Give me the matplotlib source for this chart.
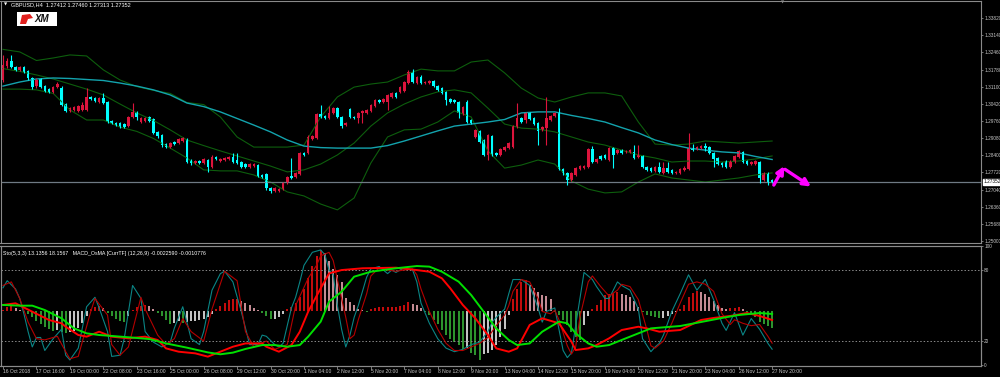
import numpy as np
import matplotlib
matplotlib.use('Agg')
import matplotlib.pyplot as plt
from matplotlib.patches import Rectangle, Polygon

plt.rcParams['font.family'] = ['Liberation Sans', 'DejaVu Sans']

# GBPUSD H4 candles (16 Oct 2018 08:00 -> 27 Nov 2018 20:00)
opens = [1.3137, 1.3192, 1.3212, 1.3188, 1.3177, 1.3188, 1.3173, 1.3145, 1.3113, 1.3141,
         1.3113, 1.3101, 1.3090, 1.3109, 1.3105, 1.3042, 1.3015, 1.3019, 1.3015, 1.3019,
         1.3019, 1.3070, 1.3066, 1.3050, 1.3066, 1.3050, 1.2975, 1.2967, 1.2967, 1.2963,
         1.2955, 1.2991, 1.3011, 1.2971, 1.2975, 1.2991, 1.2983, 1.2932, 1.2920, 1.2884,
         1.2872, 1.2892, 1.2888, 1.2896, 1.2904, 1.2821, 1.2809, 1.2817, 1.2809, 1.2821,
         1.2793, 1.2833, 1.2817, 1.2821, 1.2825, 1.2833, 1.2821, 1.2813, 1.2805, 1.2793,
         1.2797, 1.2801, 1.2762, 1.2766, 1.2710, 1.2699, 1.2699, 1.2706, 1.2730, 1.2758,
         1.2754, 1.2766, 1.2849, 1.2849, 1.2904, 1.2908, 1.3003, 1.2995, 1.2987, 1.3007,
         1.3026, 1.2991, 1.2959, 1.3022, 1.2991, 1.2987, 1.3007, 1.3007, 1.3015, 1.3034,
         1.3058, 1.3050, 1.3050, 1.3070, 1.3086, 1.3090, 1.3094, 1.3125, 1.3169, 1.3125,
         1.3149, 1.3125, 1.3125, 1.3133, 1.3113, 1.3105, 1.3090, 1.3062, 1.3058, 1.3050,
         1.3003, 1.3050, 1.2979, 1.2912, 1.2936, 1.2900, 1.2841, 1.2916, 1.2849, 1.2841,
         1.2860, 1.2868, 1.2872, 1.2951, 1.2987, 1.2979, 1.3007, 1.2987, 1.2967, 1.2940,
         1.2947, 1.2979, 1.2995, 1.3007, 1.2785, 1.2770, 1.2742, 1.2762, 1.2785, 1.2789,
         1.2793, 1.2864, 1.2813, 1.2837, 1.2841, 1.2821, 1.2868, 1.2849, 1.2860, 1.2853,
         1.2853, 1.2853, 1.2833, 1.2837, 1.2793, 1.2789, 1.2778, 1.2793, 1.2770, 1.2789,
         1.2782, 1.2770, 1.2770, 1.2782, 1.2785, 1.2868, 1.2864, 1.2868, 1.2876, 1.2872,
         1.2849, 1.2829, 1.2809, 1.2817, 1.2793, 1.2813, 1.2833, 1.2853, 1.2817, 1.2805,
         1.2805, 1.2813, 1.2742, 1.2770, 1.27412]
highs = [1.3236, 1.3224, 1.3236, 1.3192, 1.3192, 1.3192, 1.3177, 1.3149, 1.3145, 1.3145,
         1.3117, 1.3105, 1.3113, 1.3129, 1.3113, 1.3046, 1.3030, 1.3034, 1.3038, 1.3050,
         1.3105, 1.3074, 1.3070, 1.3070, 1.3086, 1.3054, 1.2979, 1.2971, 1.2971, 1.2967,
         1.2995, 1.3046, 1.3015, 1.2991, 1.2991, 1.2995, 1.2987, 1.2936, 1.2924, 1.2888,
         1.2892, 1.2896, 1.2908, 1.2912, 1.2908, 1.2825, 1.2821, 1.2821, 1.2829, 1.2825,
         1.2841, 1.2837, 1.2829, 1.2833, 1.2837, 1.2849, 1.2849, 1.2817, 1.2809, 1.2809,
         1.2809, 1.2805, 1.2766, 1.2770, 1.2714, 1.2714, 1.2710, 1.2734, 1.2758, 1.2829,
         1.2774, 1.2853, 1.2853, 1.2920, 1.2920, 1.3007, 1.3038, 1.2999, 1.3034, 1.3030,
         1.3030, 1.2995, 1.2971, 1.3026, 1.2995, 1.3011, 1.3019, 1.3022, 1.3042, 1.3062,
         1.3062, 1.3066, 1.3082, 1.3090, 1.3090, 1.3113, 1.3133, 1.3177, 1.3180, 1.3153,
         1.3157, 1.3133, 1.3137, 1.3137, 1.3117, 1.3109, 1.3094, 1.3066, 1.3062, 1.3054,
         1.3034, 1.3058, 1.2983, 1.2943, 1.2940, 1.2904, 1.2924, 1.2920, 1.2853, 1.2868,
         1.2876, 1.2892, 1.2959, 1.3046, 1.2991, 1.3011, 1.3011, 1.2991, 1.2971, 1.2955,
         1.3070, 1.2999, 1.3011, 1.3026, 1.2789, 1.2774, 1.2774, 1.2793, 1.2801, 1.2801,
         1.2868, 1.2876, 1.2829, 1.2841, 1.2845, 1.2872, 1.2872, 1.2864, 1.2864, 1.2860,
         1.2864, 1.2880, 1.2880, 1.2841, 1.2797, 1.2793, 1.2797, 1.2813, 1.2813, 1.2813,
         1.2785, 1.2778, 1.2789, 1.2797, 1.2928, 1.2884, 1.2876, 1.2880, 1.2888, 1.2876,
         1.2853, 1.2833, 1.2813, 1.2821, 1.2821, 1.2841, 1.2860, 1.2857, 1.2821, 1.2817,
         1.2821, 1.2817, 1.2774, 1.2774, 1.27460]
lows = [1.3129, 1.3184, 1.3184, 1.3173, 1.3173, 1.3165, 1.3137, 1.3101, 1.3105, 1.3105,
        1.3090, 1.3086, 1.3086, 1.3105, 1.3034, 1.3011, 1.3011, 1.3015, 1.3011, 1.3015,
        1.3015, 1.3058, 1.3050, 1.3046, 1.3042, 1.2967, 1.2963, 1.2955, 1.2947, 1.2947,
        1.2951, 1.2987, 1.2979, 1.2967, 1.2971, 1.2971, 1.2924, 1.2908, 1.2872, 1.2868,
        1.2868, 1.2880, 1.2884, 1.2892, 1.2809, 1.2801, 1.2805, 1.2805, 1.2805, 1.2774,
        1.2789, 1.2821, 1.2813, 1.2817, 1.2821, 1.2809, 1.2805, 1.2789, 1.2789, 1.2789,
        1.2793, 1.2754, 1.2750, 1.2703, 1.2691, 1.2695, 1.2695, 1.2703, 1.2726, 1.2746,
        1.2750, 1.2762, 1.2837, 1.2845, 1.2900, 1.2904, 1.2987, 1.2983, 1.2983, 1.3003,
        1.2987, 1.2947, 1.2955, 1.2987, 1.2983, 1.2967, 1.2967, 1.3003, 1.3011, 1.3030,
        1.3046, 1.3046, 1.3019, 1.3066, 1.3066, 1.3086, 1.3090, 1.3121, 1.3125, 1.3121,
        1.3121, 1.3121, 1.3121, 1.3109, 1.3094, 1.3082, 1.3038, 1.3046, 1.3046, 1.2987,
        1.2999, 1.2967, 1.2963, 1.2908, 1.2888, 1.2837, 1.2821, 1.2837, 1.2837, 1.2837,
        1.2857, 1.2864, 1.2868, 1.2947, 1.2967, 1.2967, 1.2979, 1.2959, 1.2880, 1.2936,
        1.2880, 1.2975, 1.2991, 1.2782, 1.2762, 1.2722, 1.2738, 1.2758, 1.2782, 1.2785,
        1.2789, 1.2809, 1.2809, 1.2821, 1.2825, 1.2817, 1.2789, 1.2845, 1.2845, 1.2849,
        1.2849, 1.2825, 1.2829, 1.2789, 1.2778, 1.2774, 1.2774, 1.2770, 1.2766, 1.2770,
        1.2766, 1.2766, 1.2766, 1.2778, 1.2782, 1.2857, 1.2860, 1.2864, 1.2857, 1.2845,
        1.2793, 1.2801, 1.2793, 1.2789, 1.2789, 1.2809, 1.2829, 1.2809, 1.2801, 1.2801,
        1.2801, 1.2730, 1.2738, 1.2722, 1.27313]
closes = [1.3196, 1.3212, 1.3188, 1.3177, 1.3188, 1.3169, 1.3145, 1.3109, 1.3137, 1.3109,
          1.3094, 1.3090, 1.3109, 1.3121, 1.3038, 1.3015, 1.3026, 1.3030, 1.3034, 1.3038,
          1.3070, 1.3062, 1.3054, 1.3066, 1.3046, 1.2971, 1.2967, 1.2959, 1.2951, 1.2951,
          1.2991, 1.3011, 1.2991, 1.2987, 1.2987, 1.2975, 1.2928, 1.2916, 1.2880, 1.2872,
          1.2888, 1.2884, 1.2904, 1.2908, 1.2813, 1.2809, 1.2817, 1.2809, 1.2825, 1.2793,
          1.2833, 1.2825, 1.2825, 1.2829, 1.2833, 1.2813, 1.2809, 1.2793, 1.2793, 1.2805,
          1.2805, 1.2758, 1.2754, 1.2710, 1.2699, 1.2710, 1.2706, 1.2730, 1.2754, 1.2750,
          1.2770, 1.2849, 1.2841, 1.2912, 1.2916, 1.3003, 1.2991, 1.2987, 1.3007, 1.3026,
          1.2991, 1.2955, 1.2967, 1.2991, 1.2987, 1.3007, 1.3015, 1.3019, 1.3038, 1.3058,
          1.3050, 1.3062, 1.3078, 1.3086, 1.3070, 1.3109, 1.3129, 1.3169, 1.3129, 1.3149,
          1.3125, 1.3129, 1.3133, 1.3113, 1.3098, 1.3086, 1.3058, 1.3050, 1.3050, 1.3007,
          1.3030, 1.2971, 1.2967, 1.2940, 1.2892, 1.2841, 1.2920, 1.2841, 1.2841, 1.2864,
          1.2872, 1.2888, 1.2955, 1.2987, 1.2971, 1.3007, 1.2983, 1.2963, 1.2936, 1.2951,
          1.2987, 1.2995, 1.3007, 1.2785, 1.2770, 1.2742, 1.2770, 1.2789, 1.2797, 1.2797,
          1.2864, 1.2813, 1.2825, 1.2825, 1.2829, 1.2868, 1.2841, 1.2860, 1.2849, 1.2857,
          1.2860, 1.2829, 1.2841, 1.2793, 1.2782, 1.2778, 1.2793, 1.2774, 1.2789, 1.2774,
          1.2770, 1.2774, 1.2785, 1.2789, 1.2868, 1.2860, 1.2872, 1.2876, 1.2868, 1.2849,
          1.2825, 1.2805, 1.2801, 1.2793, 1.2817, 1.2837, 1.2857, 1.2813, 1.2805, 1.2813,
          1.2817, 1.2750, 1.2770, 1.2730, 1.27352]

# Bollinger bands and slow MA, sampled every 4 bars
band_x = list(range(0, 185, 4))
bb_upper = [1.3258, 1.3248, 1.3214, 1.3224, 1.3236, 1.3232, 1.3177, 1.3137, 1.3111, 1.3096,
            1.3084, 1.3048, 1.3040, 1.2991, 1.2912, 1.2872, 1.2872, 1.2872, 1.2880, 1.2991,
            1.3070, 1.3109, 1.3121, 1.3129, 1.3157, 1.3180, 1.3173, 1.3173, 1.3208, 1.3216,
            1.3165, 1.3105, 1.3066, 1.3050, 1.3070, 1.3086, 1.3086, 1.3074, 1.2971, 1.2884,
            1.2880, 1.2884, 1.2896, 1.2892, 1.2888, 1.2892, 1.2896]
bb_mid = [1.3182, 1.3171, 1.3157, 1.3141, 1.3121, 1.3101, 1.3078, 1.3042, 1.3007, 1.2977,
          1.2940, 1.2900, 1.2878, 1.2857, 1.2837, 1.2817, 1.2797, 1.2774, 1.2782, 1.2805,
          1.2841, 1.2888, 1.2955, 1.3007, 1.3042, 1.3070, 1.3090, 1.3098, 1.3086, 1.3026,
          1.2963, 1.2947, 1.2943, 1.2932, 1.2912, 1.2892, 1.2880, 1.2860, 1.2841, 1.2829,
          1.2813, 1.2817, 1.2817, 1.2813, 1.2817, 1.2825, 1.2837]
bb_lower = [1.3101, 1.3101, 1.3098, 1.3084, 1.3019, 1.2979, 1.2979, 1.2951, 1.2934, 1.2906,
            1.2868, 1.2829, 1.2782, 1.2778, 1.2778, 1.2762, 1.2734, 1.2695, 1.2679, 1.2647,
            1.2624, 1.2671, 1.2809, 1.2912, 1.2940, 1.2943, 1.2971, 1.3015, 1.2991, 1.2857,
            1.2789, 1.2801, 1.2821, 1.2805, 1.2738, 1.2706, 1.2691, 1.2695, 1.2734, 1.2766,
            1.2750, 1.2742, 1.2734, 1.2742, 1.2750, 1.2762, 1.2770]
ma_slow = [1.3113, 1.3129, 1.3141, 1.3145, 1.3143, 1.3139, 1.3135, 1.3125, 1.3113, 1.3098,
           1.3078, 1.3046, 1.3032, 1.3011, 1.2985, 1.2959, 1.2932, 1.2900, 1.2876, 1.2870,
           1.2868, 1.2868, 1.2868, 1.2878, 1.2896, 1.2916, 1.2936, 1.2955, 1.2963, 1.2971,
           1.2981, 1.3007, 1.3011, 1.3011, 1.2997, 1.2985, 1.2971, 1.2949, 1.2928, 1.2900,
           1.2882, 1.2868, 1.2860, 1.2853, 1.2849, 1.2835, 1.2823]

# MACD OsMA histogram, in pips (x1e-4)
osma = [0.7, 2.8, 3.2, 2.1, 0.7, -0.7, -2.1, -4.2, -7.0, -9.1,
        -11.2, -12.6, -14.0, -13.3, -14.7, -15.4, -14.7, -14.0, -11.9, -8.4,
        -3.5, 1.4, 2.8, 3.5, 2.1, -1.4, -3.5, -5.6, -7.0, -7.4,
        -3.5, 0.7, 2.8, 3.5, 4.2, 3.5, 1.4, -1.4, -3.5, -6.3,
        -9.1, -8.4, -7.0, -8.4, -7.7, -7.0, -6.7, -6.3, -5.6, -4.2,
        -2.1, 1.4, 3.5, 5.6, 7.7, 8.1, 8.4, 7.0, 5.6, 4.2,
        2.1, 0.7, -1.4, -3.5, -5.6, -5.3, -4.2, -2.1, 1.4, 2.8,
        5.6, 9.8, 15.4, 23.1, 31.5, 38.5, 42.7, 40.6, 35.0, 29.4,
        25.2, 20.3, 9.1, 6.3, 4.2, 1.4, 0.7, -0.4, 1.4, 1.8,
        2.5, 2.8, 2.9, 3.0, 3.1, 3.5, 4.2, 6.0, 4.9, 4.2,
        2.1, -0.7, -2.8, -6.3, -9.1, -13.3, -16.8, -19.6, -21.7, -23.8,
        -26.6, -25.9, -29.4, -30.8, -34.3, -30.1, -29.4, -27.3, -23.8, -18.2,
        -12.6, -2.8, 8.4, 15.4, 20.3, 21.7, 18.2, 16.1, 13.3, 11.2,
        10.5, 8.4, -0.7, -2.8, -6.3, -9.8, -14.7, -18.2, -20.3, -9.8,
        -3.5, 1.4, 4.2, 7.7, 11.2, 11.9, 12.6, 13.3, 11.9, 11.2,
        9.8, 7.0, 2.8, -0.7, -2.8, -3.2, -4.2, -4.9, -4.6, -3.5,
        -2.1, -0.7, 1.4, 4.2, 9.8, 12.6, 14.0, 13.3, 11.9, 9.8,
        7.0, 4.2, 2.1, 1.4, 1.8, 2.1, 2.8, 1.4, -0.7, -2.8,
        -4.2, -7.7, -9.1, -10.5, -11.8]

# Stochastic (5,3,3) main and signal
sto_k_idx = [0, 1, 3, 4, 5, 6, 7, 8, 9, 10, 12, 14, 15, 16, 18, 20, 22, 23, 25, 26,
             28, 29, 31, 33, 34, 36, 38, 40, 41, 43, 44, 45, 47, 48, 50, 52, 53, 55, 57, 59,
             61, 62, 63, 65, 66, 67, 69, 70, 71, 72, 74, 76, 77, 78, 79, 80, 81, 82, 83, 84,
             85, 86, 87, 88, 90, 92, 93, 94, 96, 98, 99, 100, 102, 104, 106, 108, 110, 112, 114, 116,
             117, 118, 120, 121, 122, 124, 126, 128, 129, 130, 132, 133, 134, 135, 136, 137, 139, 141, 142, 144,
             145, 147, 148, 150, 152, 153, 155, 156, 157, 158, 160, 162, 164, 166, 168, 170, 172, 173, 175, 177,
             179, 181, 183, 184]
sto_k_val = [65, 71, 64, 56, 43, 28, 15, 23, 23, 12, 22, 30, 8, 4, 14, 49, 57, 48, 28, 7,
             8, 22, 67, 56, 28, 19, 15, 19, 31, 49, 36, 22, 17, 28, 63, 77, 79, 70, 45, 17,
             17, 25, 24, 17, 15, 18, 48, 57, 70, 84, 95, 97, 93, 80, 76, 50, 30, 15, 25, 40,
             50, 62, 74, 81, 83, 77, 80, 78, 82, 80, 70, 52, 35, 22, 14, 11, 13, 17, 19, 28,
             36, 40, 47, 60, 72, 72, 67, 48, 36, 45, 48, 30, 12, 6, 10, 33, 78, 72, 66, 56,
             56, 70, 67, 63, 47, 22, 11, 15, 18, 25, 45, 60, 76, 63, 72, 55, 35, 29, 44, 25,
             39, 30, 18, 13.1]
sto_d_idx = [0, 2, 4, 6, 8, 10, 13, 15, 16, 18, 21, 22, 25, 26, 28, 30, 33, 34, 37, 39,
             41, 43, 45, 48, 50, 53, 56, 58, 60, 63, 65, 68, 70, 73, 75, 76, 78, 79, 80, 82,
             83, 84, 85, 87, 88, 90, 92, 94, 96, 98, 99, 100, 102, 104, 106, 108, 110, 112, 114, 116,
             118, 120, 121, 122, 124, 126, 128, 129, 131, 132, 133, 135, 136, 137, 138, 140, 141, 143, 145, 147,
             148, 150, 152, 154, 155, 156, 158, 160, 162, 164, 166, 168, 170, 172, 174, 175, 177, 179, 181, 183,
             184]
sto_d_val = [67, 70, 56, 36, 22, 21, 24, 11, 5, 7, 45, 56, 42, 17, 8, 15, 57, 47, 25, 17,
             22, 39, 28, 20, 47, 79, 71, 28, 15, 20, 13, 17, 50, 73, 84, 92, 95, 88, 72, 40,
             22, 25, 38, 60, 75, 82, 80, 79, 80, 81, 76, 64, 45, 30, 18, 12, 12, 15, 18, 23,
             33, 42, 50, 62, 72, 70, 56, 45, 43, 46, 38, 16, 9, 15, 40, 70, 75, 66, 58, 63,
             68, 66, 55, 30, 16, 14, 20, 35, 52, 68, 70, 68, 62, 43, 34, 38, 35, 33, 34, 24,
             18.2]

# thick MACD main / signal lines (drawn on the 0-100 window scale)
macd_idx = [0, 3, 7, 11, 14, 15, 18, 20, 23, 26, 30, 34, 37, 39, 42, 46, 49, 52, 55, 58,
            62, 63, 66, 69, 71, 73, 76, 78, 81, 86, 94, 99, 102, 105, 107, 110, 113, 116, 118, 121,
            123, 126, 129, 133, 136, 137, 140, 142, 145, 148, 152, 154, 157, 162, 167, 170, 174, 178, 181, 184]
macd_val = [50.5, 51.9, 44.8, 37.8, 35.0, 32.1, 25.1, 23.7, 27.9, 23.7,
            22.3, 23.7, 20.9, 13.8, 11.0, 9.6, 6.8, 11.0, 15.2, 18.0,
            18.0, 15.2, 11.0, 16.6, 27.9, 44.8, 64.6, 77.2, 80.0, 81.5,
            82.0, 80.0, 78.6, 73.0, 64.6, 50.5, 39.2, 25.1, 13.8, 11.0,
            13.8, 33.6, 39.2, 35.0, 19.4, 12.4, 13.8, 16.6, 22.3, 29.3,
            32.1, 30.7, 27.9, 29.3, 37.8, 39.5, 41.2, 43.7, 41.2, 37.8]
sig_idx = [0, 4, 7, 10, 14, 17, 20, 23, 26, 31, 35, 39, 44, 49, 52, 55, 58, 62, 65, 68,
           71, 73, 76, 78, 81, 84, 88, 94, 99, 102, 105, 109, 112, 115, 118, 121, 123, 126, 129, 133,
           135, 137, 140, 142, 145, 148, 152, 155, 157, 162, 167, 172, 176, 181, 184]
sig_val = [50.5, 49.9, 49.9, 46.2, 39.2, 30.7, 26.5, 25.1, 24.3, 22.9,
           21.7, 18.0, 14.4, 10.4, 8.8, 10.2, 13.3, 16.6, 16.6, 15.2,
           16.6, 23.7, 36.4, 53.3, 61.7, 74.4, 78.6, 81.5, 83.4, 82.9,
           78.6, 70.2, 58.9, 44.8, 30.7, 20.9, 16.6, 18.0, 27.9, 36.4,
           35.0, 26.5, 18.0, 15.2, 16.6, 20.9, 26.5, 30.7, 31.3, 32.7,
           36.1, 39.5, 42.0, 43.7, 42.9]

price_ticks = [1.33820, 1.33140, 1.32460, 1.31780, 1.31100, 1.30420, 1.29760,
               1.29080, 1.28400, 1.27720, 1.27040, 1.26360, 1.25680, 1.25000]
time_labels = ['16 Oct 2018', '17 Oct 16:00', '19 Oct 00:00', '22 Oct 08:00', '23 Oct 16:00',
               '25 Oct 00:00', '26 Oct 08:00', '29 Oct 12:00', '30 Oct 20:00', '1 Nov 04:00',
               '2 Nov 12:00', '5 Nov 20:00', '7 Nov 04:00', '8 Nov 12:00', '9 Nov 20:00',
               '13 Nov 04:00', '14 Nov 12:00', '15 Nov 20:00', '19 Nov 04:00', '20 Nov 12:00',
               '21 Nov 20:00', '23 Nov 04:00', '26 Nov 12:00', '27 Nov 20:00']
last_price = 1.27352
# hand-drawn magenta arrows (bar index, price)
arrow_up = [(184.4, 1.2722), (186.9, 1.2797)]
arrow_down = [(187.1, 1.2784), (193.3, 1.2716)]

BULL = '#dc143c'
BEAR = '#00ffff'
FRAME = '#8a8a8a'
TXT = '#c8c8c8'
FS = 3.4

fig = plt.figure(figsize=(10, 3.77), dpi=100, facecolor='black')

ax = fig.add_axes([0.0005, 134 / 377, 0.9805, 242 / 377], facecolor='black')
x = np.arange(len(closes))
o = np.array(opens); h = np.array(highs); l = np.array(lows); c = np.array(closes)
cols = np.where(c >= o, BULL, BEAR)

ax.plot(band_x, bb_upper, color='#0d5e0d', lw=0.8)
ax.plot(band_x, bb_mid, color='#0d5e0d', lw=0.8)
ax.plot(band_x, bb_lower, color='#0d5e0d', lw=0.8)
ax.plot(band_x, ma_slow, color='#13a3ad', lw=1.0)
ax.axhline(last_price, color='#6f7a84', lw=0.9)

ax.vlines(x, l, h, colors=cols, lw=0.8)
ax.bar(x, np.maximum(np.abs(c - o), 0.00005), bottom=np.minimum(o, c),
       width=0.62, color=cols, lw=0)

for tail, tip in [arrow_up, arrow_down]:
    ax.annotate('', xy=tip, xytext=tail,
                arrowprops=dict(arrowstyle='-|>', color='#ff00ff', lw=2.4,
                                mutation_scale=11, shrinkA=0, shrinkB=0))

ax.set_xlim(-0.6, 233.97)
ax.set_ylim(1.249315, 1.344905)
ax.set_xticks([])
ax.yaxis.tick_right()
ax.set_yticks(price_ticks)
ax.set_yticklabels([f'{v:.5f}' for v in price_ticks])
ax.tick_params(axis='y', colors=FRAME, labelcolor=TXT, labelsize=FS, length=1.5, width=0.6, pad=0.8)
for s in ax.spines.values():
    s.set_color(FRAME)
    s.set_linewidth(0.8)

ax.annotate(f'{last_price:.5f}', xy=(1.0, last_price), xycoords=('axes fraction', 'data'),
            xytext=(1.8, 0), textcoords='offset points', va='center', ha='left',
            fontsize=FS, color='black',
            bbox=dict(boxstyle='square,pad=0.15', fc='white', ec='white'))

# lower window: OsMA histogram + stochastic + MACD lines
ax_h = fig.add_axes([0.0005, 11 / 377, 0.9805, 120 / 377], facecolor='black')
hist_cols = []
prev = 0.0
for v in osma:
    if v >= 0:
        hist_cols.append('#ff1010' if v >= prev else '#ffb6c1')
    else:
        hist_cols.append('#3cc03c' if v <= prev else '#ffffff')
    prev = v
ax_h.vlines(x, 0, osma, colors=hist_cols, lw=1.1)
ax_h.set_ylim(-38.5, 45.5)
ax_h.set_xlim(-0.6, 233.97)
ax_h.tick_params(axis='y', left=False, labelleft=False)
ax_h.set_xticks(range(0, 185, 8))
ax_h.set_xticklabels(time_labels, ha='left')
ax_h.tick_params(axis='x', colors=FRAME, labelcolor=TXT, labelsize=3.6,
                 length=2, width=0.6, pad=0.3)

ax2 = ax_h.twinx()
ax2.axhline(80, color='#8a8a8a', lw=0.7, ls=(0, (1.5, 2)))
ax2.axhline(20, color='#8a8a8a', lw=0.7, ls=(0, (1.5, 2)))
ax2.plot(sto_k_idx, sto_k_val, color='#0a8585', lw=0.8)
ax2.plot(sto_d_idx, sto_d_val, color='#b40000', lw=0.8)
ax2.plot(macd_idx, macd_val, color='#ff0000', lw=1.4)
ax2.plot(sig_idx, sig_val, color='#00e000', lw=1.4)
ax2.set_ylim(-1.1, 100.34)
ax2.set_yticks([0, 20, 80, 100])
ax2.set_yticklabels(['0', '20', '80', '100'])
ax2.tick_params(axis='y', colors=FRAME, labelcolor=TXT, labelsize=FS, length=1.5, width=0.6, pad=0.8)
for a in (ax_h, ax2):
    for s in a.spines.values():
        s.set_color(FRAME)
        s.set_linewidth(0.8)

# header texts
fig.text(0.004, 1 - 5 / 377, '\u25BC', color='white', fontsize=3, va='center',
         family='DejaVu Sans')
fig.text(0.011, 1 - 5 / 377, 'GBPUSD,H4  1.27412 1.27460 1.27313 1.27352',
         color='white', fontsize=4.0, va='center')
fig.text(0.003, 1 - 253 / 377,
         'Sto(5,3,3) 13.1356 18.1567   MACD_OsMA [CurrTF] (12,26,9) -0.0022590 -0.0010776',
         color='white', fontsize=3.8, va='center')
fig.text(0.783, 1 - 2 / 377, '\u25BC', color='#8a8a8a', fontsize=3, va='center',
         ha='center', family='DejaVu Sans')

# XM logo
fig.add_artist(Rectangle((0.017, 1 - 26 / 377), 0.040, 14 / 377,
                         transform=fig.transFigure, fc='white', ec='none'))
fig.add_artist(Polygon([(0.020, 1 - 24 / 377), (0.022, 1 - 15 / 377), (0.030, 1 - 14 / 377),
                        (0.033, 1 - 18 / 377), (0.028, 1 - 19 / 377), (0.026, 1 - 24 / 377)],
                       closed=True, transform=fig.transFigure, fc='#e0201e', ec='none'))
fig.text(0.034, 1 - 18.5 / 377, 'XM', color='#111111', fontsize=7, fontweight='bold',
         fontstyle='italic', va='center', ha='left')

fig.savefig('out.png', dpi=100, facecolor='black')
